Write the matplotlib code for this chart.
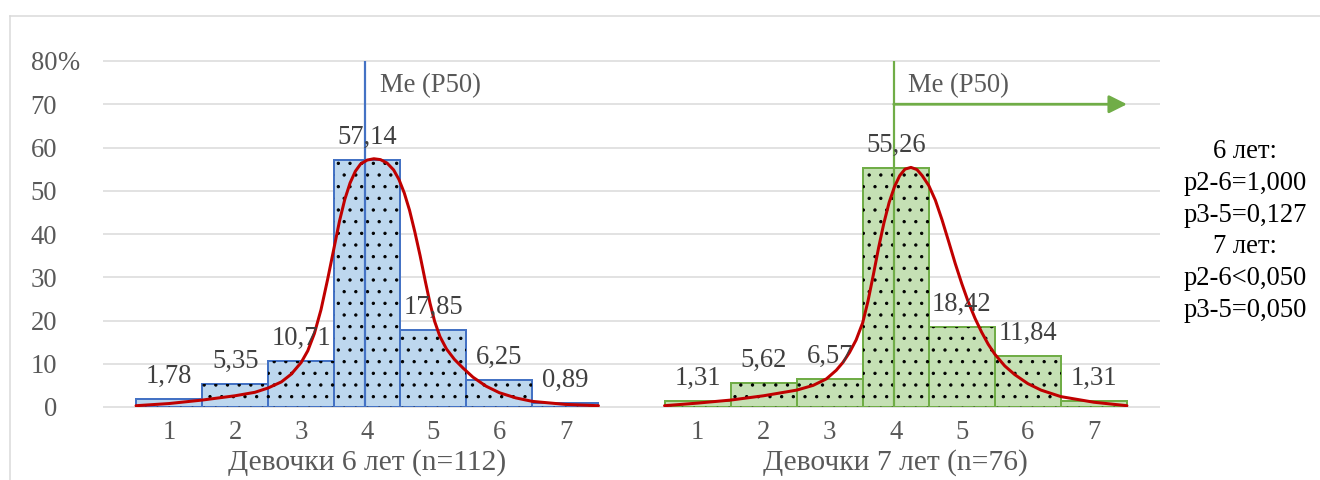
import numpy as np
import matplotlib.pyplot as plt
from matplotlib.lines import Line2D

DPI = 140
W, H = 1320, 480


def pt(px):
    # пиксели -> пункты при текущем dpi
    return px * 72 / DPI


plt.rcParams['font.family'] = ['Liberation Serif', 'DejaVu Serif']
plt.rcParams['hatch.linewidth'] = 0.5

# распределение по баллам 1..7, %
cats = ['1', '2', '3', '4', '5', '6', '7']
girls6 = [1.78, 5.35, 10.71, 57.14, 17.85, 6.25, 0.89]
girls7 = [1.31, 5.62, 6.57, 55.26, 18.42, 11.84, 1.31]
titles = ['Девочки 6 лет (n=112)', 'Девочки 7 лет (n=76)']
median_cat = 3.97
yticks = [0, 10, 20, 30, 40, 50, 60, 70, 80]
stats_text = '6 лет:\np2-6=1,000\np3-5=0,127\n7 лет:\np2-6<0,050\np3-5=0,050'

# сглаженные кривые (x - балл, y - %)
curve6_x = [0.5, 1.0, 1.5, 2.0, 2.3, 2.5, 2.7, 2.85, 3.0, 3.1, 3.2, 3.3, 3.4,
            3.5, 3.58, 3.66, 3.74, 3.82, 3.9, 4.0, 4.1, 4.2, 4.3, 4.4, 4.48,
            4.56, 4.64, 4.72, 4.8, 4.88, 4.95, 5.02, 5.1, 5.2, 5.32, 5.45, 5.6,
            5.8, 6.0, 6.25, 6.5, 7.0, 7.5]
curve6_y = [0.3, 0.8, 1.6, 2.6, 3.4, 4.4, 5.8, 7.6, 10.3, 13.0, 17.0, 22.5, 29.5,
            37.0, 43.0, 48.0, 51.8, 54.5, 56.2, 57.1, 57.4, 57.2, 56.4, 54.8, 52.6,
            49.5, 45.5, 40.5, 35.0, 29.0, 24.0, 19.8, 16.3, 13.4, 11.0, 9.0, 6.9,
            4.8, 3.3, 2.1, 1.3, 0.6, 0.3]
curve7_x = [0.5, 1.0, 1.5, 2.0, 2.5, 2.75, 2.95, 3.1, 3.2, 3.3, 3.4, 3.5, 3.58,
            3.66, 3.74, 3.82, 3.9, 3.98, 4.06, 4.14, 4.23, 4.32, 4.4, 4.5, 4.6,
            4.7, 4.8, 4.9, 5.0, 5.1, 5.2, 5.3, 5.4, 5.5, 5.65, 5.8, 6.0, 6.2,
            6.5, 7.0, 7.5]
curve7_y = [0.3, 0.9, 1.6, 2.6, 3.9, 5.0, 6.5, 8.5, 10.3, 12.6, 15.5, 19.5, 24.5,
            30.5, 36.8, 42.5, 47.3, 50.9, 53.5, 55.0, 55.4, 54.9, 53.5, 51.2, 47.8,
            43.3, 38.3, 33.2, 28.5, 24.2, 20.5, 17.3, 14.5, 12.2, 9.5, 7.5, 5.4, 3.9,
            2.4, 1.1, 0.3]

FS = pt(26.6)
GRAY = '#595959'

fig = plt.figure(figsize=(W / DPI, H / DPI), dpi=DPI)
ax = fig.add_axes([103 / W, 1 - 407 / H, (1160 - 103) / W, (407 - 61) / H])

groups = [
    (girls6, -1, '#BDD7EE', '#4472C4', curve6_x, curve6_y),
    (girls7, 7, '#C5E0B4', '#70AD47', curve7_x, curve7_y),
]

xt, xl = [], []
for i, (vals, off, face, edge, cx, cy) in enumerate(groups):
    x = np.arange(1, 8) + off
    ax.bar(x, vals, width=1.0, color=face, edgecolor=edge, linewidth=pt(2), zorder=2)
    ax.bar(x, vals, width=1.0, color='none', edgecolor='black', linewidth=0,
           hatch='..', zorder=3)
    for xi, v in zip(x, vals):
        ax.annotate(f'{v:.2f}'.replace('.', ','), (xi, v), xytext=(0, pt(16)),
                    textcoords='offset points', ha='center', va='baseline',
                    fontsize=FS, color='#404040', zorder=7)
    ax.axvline(median_cat + off, color=edge, lw=pt(2.2), zorder=4)
    ax.plot(np.array(cx) + off, cy, color='#C00000', lw=pt(3), zorder=6,
            solid_joinstyle='round', solid_capstyle='round')
    ax.text(median_cat + off + 0.22, 72.9, 'Me (P50)', fontsize=FS, color=GRAY,
            ha='left', va='baseline')
    ax.annotate(titles[i], xy=(4 + off, 0), xytext=(0, -pt(63)),
                textcoords='offset points', ha='center', va='baseline',
                fontsize=pt(29.5), color=GRAY, annotation_clip=False)
    xt += list(x)
    xl += cats

# стрелка вправо от медианы у 7-леток
ax.annotate('', xy=(7.5 + 7, 70), xytext=(median_cat + 7, 70),
            arrowprops=dict(arrowstyle='-|>,head_length=0.4,head_width=0.2',
                            mutation_scale=pt(37.5), lw=pt(2.8), color='#70AD47',
                            shrinkA=0, shrinkB=0), zorder=5)

ax.hlines(yticks, -1, 15, colors='#D9D9D9', lw=pt(1.5), zorder=0, clip_on=False)
ax.set_xlim(-1, 15)
ax.set_ylim(0, 80)
ax.set_xticks(xt, xl)
ax.set_yticks(yticks, [str(v) for v in yticks])
ax.tick_params(axis='x', length=0, pad=pt(13), labelsize=FS, labelcolor=GRAY)
ax.tick_params(axis='y', length=0, pad=pt(46), labelsize=FS, labelcolor=GRAY)
ax.annotate('%', xy=(0, 80), xycoords=('axes fraction', 'data'),
            xytext=(-pt(46), 0), textcoords='offset points', ha='left',
            va='center_baseline', fontsize=FS, color=GRAY, annotation_clip=False)
for s in ax.spines.values():
    s.set_visible(False)

fig.text(1245 / W, 1 - 231 / H, stats_text, ha='center', va='center',
         fontsize=FS, linespacing=1.36, color='black')

# рамка области диаграммы
fig.add_artist(Line2D([10 / W, 1], [1 - 16 / H, 1 - 16 / H], color='#D9D9D9', lw=pt(1.5)))
fig.add_artist(Line2D([10 / W, 10 / W], [0, 1 - 16 / H], color='#D9D9D9', lw=pt(1.5)))

fig.savefig('out.png', dpi=DPI)
